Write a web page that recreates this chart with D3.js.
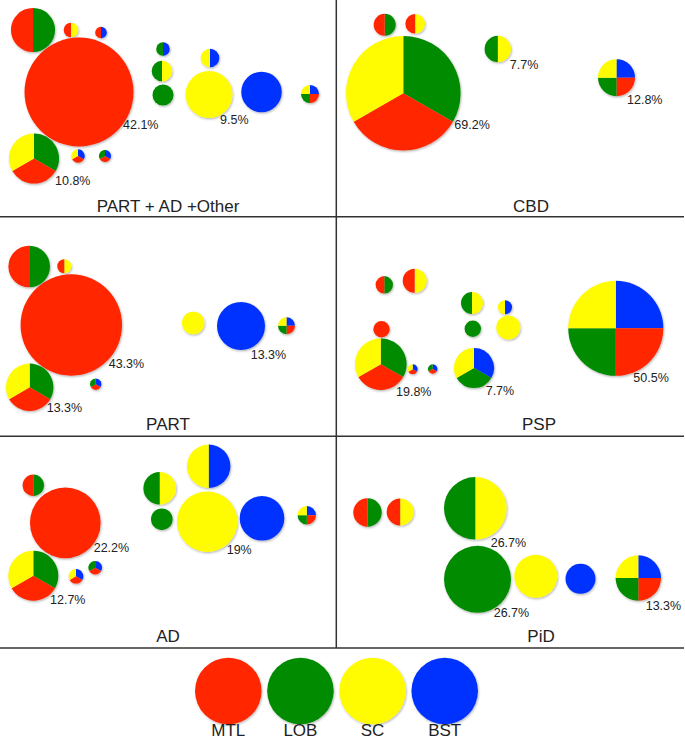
<!DOCTYPE html>
<html>
<head>
<meta charset="utf-8">
<script src="https://cdn.jsdelivr.net/npm/d3@7/dist/d3.min.js"></script>
<style>
body { margin: 0; background: #fff; }
svg text { font-family: "Liberation Sans", Arial, Helvetica, sans-serif; fill: #222; }
</style>
</head>
<body>
<svg id="chart" width="685" height="741"></svg>
<script>
var categories = ["MTL", "LOB", "SC", "BST"];
var colors = ["#ff2600", "#008b00", "#fffb00", "#0433ff"];
var panelTitles = ["PART + AD +Other", "CBD", "PART", "PSP", "AD", "PiD"];

// pies per panel: regions listed clockwise from 12 o'clock, relative size, label
var piesOther = [
    { sets: "LOB|MTL", size: 7.6 },
    { sets: "SC|MTL", size: 0.83 },
    { sets: "BST|MTL", size: 0.53 },
    { sets: "MTL", size: 46.4, label: "42.1%" },
    { sets: "BST|LOB", size: 0.72 },
    { sets: "BST|SC", size: 1.35 },
    { sets: "SC|LOB", size: 1.66 },
    { sets: "LOB", size: 1.72 },
    { sets: "SC", size: 8.6, label: "9.5%" },
    { sets: "BST", size: 6.4 },
    { sets: "BST|MTL|LOB|SC", size: 1.27 },
    { sets: "LOB|MTL|SC", size: 9.8, label: "10.8%" },
    { sets: "BST|MTL|SC", size: 0.7 },
    { sets: "BST|MTL|LOB", size: 0.56 }
];
var piesCBD = [
    { sets: "LOB|MTL", size: 1.89 },
    { sets: "SC|MTL", size: 1.5 },
    { sets: "LOB|MTL|SC", size: 51.3, label: "69.2%" },
    { sets: "SC|LOB", size: 2.72, label: "7.7%" },
    { sets: "BST|MTL|LOB|SC", size: 5.35, label: "12.8%" }
];
var piesPART = [
    { sets: "LOB|MTL", size: 6.76 },
    { sets: "SC|MTL", size: 0.77 },
    { sets: "MTL", size: 40.2, label: "43.3%" },
    { sets: "SC", size: 1.96 },
    { sets: "BST", size: 9.0, label: "13.3%" },
    { sets: "BST|MTL|LOB|SC", size: 1.13 },
    { sets: "LOB|MTL|SC", size: 8.78, label: "13.3%" },
    { sets: "BST|MTL|LOB", size: 0.51 }
];
var piesPSP = [
    { sets: "LOB|MTL", size: 1.18 },
    { sets: "SC|MTL", size: 2.25 },
    { sets: "SC|LOB", size: 1.89 },
    { sets: "BST|SC", size: 0.77 },
    { sets: "MTL", size: 1.05 },
    { sets: "LOB", size: 1.05 },
    { sets: "SC", size: 2.25 },
    { sets: "LOB|MTL|SC", size: 10.4, label: "19.8%" },
    { sets: "BST|MTL|SC", size: 0.39 },
    { sets: "BST|MTL|LOB", size: 0.35 },
    { sets: "BST|LOB|SC", size: 6.25, label: "7.7%" },
    { sets: "BST|MTL|LOB|SC", size: 35.3, label: "50.5%" }
];
var piesAD = [
    { sets: "LOB|MTL", size: 1.79 },
    { sets: "MTL", size: 19.5, label: "22.2%" },
    { sets: "LOB|MTL|SC", size: 9.77, label: "12.7%" },
    { sets: "BST|MTL|SC", size: 0.83 },
    { sets: "BST|MTL|LOB", size: 0.72 },
    { sets: "SC|LOB", size: 4.15 },
    { sets: "BST|SC", size: 7.36 },
    { sets: "LOB", size: 1.82 },
    { sets: "SC", size: 14.25, label: "19%" },
    { sets: "BST", size: 7.77 },
    { sets: "BST|MTL|LOB|SC", size: 1.32 }
];
var piesPiD = [
    { sets: "LOB|MTL", size: 3.15 },
    { sets: "SC|MTL", size: 2.85 },
    { sets: "SC|LOB", size: 15.3, label: "26.7%" },
    { sets: "LOB", size: 17.5, label: "26.7%" },
    { sets: "SC", size: 7.22 },
    { sets: "BST", size: 3.5 },
    { sets: "BST|MTL|LOB|SC", size: 8.05, label: "13.3%" }
];
var allPies = [piesOther, piesCBD, piesPART, piesPSP, piesAD, piesPiD];

// layout (panel-local units): [cx, cy, label dx, label dy]
var layouts = [
    [[33,30],[71,30],[101,32.5],[79,92,44,37],[163,49],[210,58],[162,71],[163,95],[209,94.5,11,29.5],[261.5,92],[310,94],[34,158.5,21,26.5],[78,156],[105,156]],
    [[48.7,24.8],[79.2,23.7],[67.3,93.2,51,36],[161.8,49,12,20],[280.5,77.7,10.5,26.3]],
    [[29.2,49.5],[64.3,49.3],[71.3,108,37.4,43.3],[193.2,106],[241,109,9.7,33],[286.5,108.8],[29.7,170.3,17,25],[95.7,167.2]],
    [[48.3,67.8],[78.7,63.8],[136,86],[169,90.2],[45.5,112.2],[136.8,111.8],[172.3,110.5],[44.8,147.2,15.2,31.8],[76.7,152.2],[96.7,152],[138,151,11.7,27],[279.8,111.3,17.5,54]],
    [[33.3,49.3],[65.3,86.8,28.4,28.9],[33.3,139.7,16.7,28.3],[76,140.3],[95.2,131.7],[159.7,52.2],[208.7,30.2],[161.8,83.2],[207.2,85.7,19.5,32.3],[262,82.3],[306.8,79.2]],
    [[31.5,76.5],[64.2,76],[139.3,72.3,15.4,38.4],[141.5,143.3,16.2,38],[199.8,140.3],[244.5,142.8],[302.3,142,7.4,32]]
];
var titlePos = [[168, 211.7], [195, 211.7], [168, 213], [203, 213], [168, 206.3], [205, 206.3]];
var colX = [0, 336];
var rowY = [0, 217, 436];
var legendSize = 17.3;

var svg = d3.select("#chart");
var color = d3.scaleOrdinal().domain(categories).range(colors);
var radius = d3.scaleSqrt().domain([0, 100]).range([0, 80]);
var pie = d3.pie().value(function () { return 1; }).sort(null);
var arc = d3.arc().innerRadius(0);

var defs = svg.append("defs");
var f = defs.append("filter").attr("id", "shadow")
    .attr("x", "-20%").attr("y", "-20%").attr("width", "150%").attr("height", "150%");
f.append("feDropShadow").attr("dx", 0.8).attr("dy", 1.2)
    .attr("stdDeviation", 0.8).attr("flood-color", "#000").attr("flood-opacity", 0.3);

// grid lines
svg.append("g").selectAll("line.h")
    .data([216.7, 436.3, 648])
    .enter().append("line")
    .attr("x1", 0).attr("x2", 684)
    .attr("y1", function (d) { return d; }).attr("y2", function (d) { return d; })
    .attr("stroke", "#333").attr("stroke-width", 1.5);
svg.append("line")
    .attr("x1", 336.3).attr("x2", 336.3).attr("y1", 0).attr("y2", 648)
    .attr("stroke", "#333").attr("stroke-width", 1.5);

var drawPie = function (g, sets, r) {
    var slices = pie(sets.split("|"));
    g.attr("filter", "url(#shadow)");
    if (slices.length === 1) {
        g.append("circle").attr("r", r).attr("fill", color(slices[0].data));
        return;
    }
    g.selectAll("path")
        .data(slices)
        .enter().append("path")
        .attr("d", function (d) { return arc.outerRadius(r)(d); })
        .attr("fill", function (d) { return color(d.data); });
};

allPies.forEach(function (pies, p) {
    var x0 = colX[p % 2], y0 = rowY[Math.floor(p / 2)];
    var xs = d3.scaleLinear().domain([0, 336]).range([x0, x0 + 336]);
    var ys = d3.scaleLinear().domain([0, 217]).range([y0, y0 + 217]);
    var g = svg.append("g");
    pies.forEach(function (d, i) {
        var pos = layouts[p][i];
        var r = radius(d.size);
        var pg = g.append("g").attr("transform", "translate(" + xs(pos[0]) + "," + ys(pos[1]) + ")");
        drawPie(pg, d.sets, r);
    });
    pies.forEach(function (d, i) {
        if (!d.label) return;
        var pos = layouts[p][i];
        g.append("text")
            .attr("x", xs(pos[0] + pos[2]))
            .attr("y", ys(pos[1] + pos[3]))
            .attr("font-size", "12.5px")
            .text(d.label);
    });
    g.append("text")
        .attr("x", xs(titlePos[p][0]))
        .attr("y", ys(titlePos[p][1]))
        .attr("text-anchor", "middle")
        .attr("font-size", "17px")
        .text(panelTitles[p]);
});

// legend
var lx = d3.scalePoint().domain(categories).range([228.3, 444.7]);
var lg = svg.append("g");
categories.forEach(function (c) {
    var cg = lg.append("g").attr("transform", "translate(" + lx(c) + ",691)");
    drawPie(cg, c, radius(legendSize));
    lg.append("text")
        .attr("x", lx(c)).attr("y", 736)
        .attr("text-anchor", "middle")
        .attr("font-size", "17px")
        .text(c);
});
</script>
</body>
</html>
